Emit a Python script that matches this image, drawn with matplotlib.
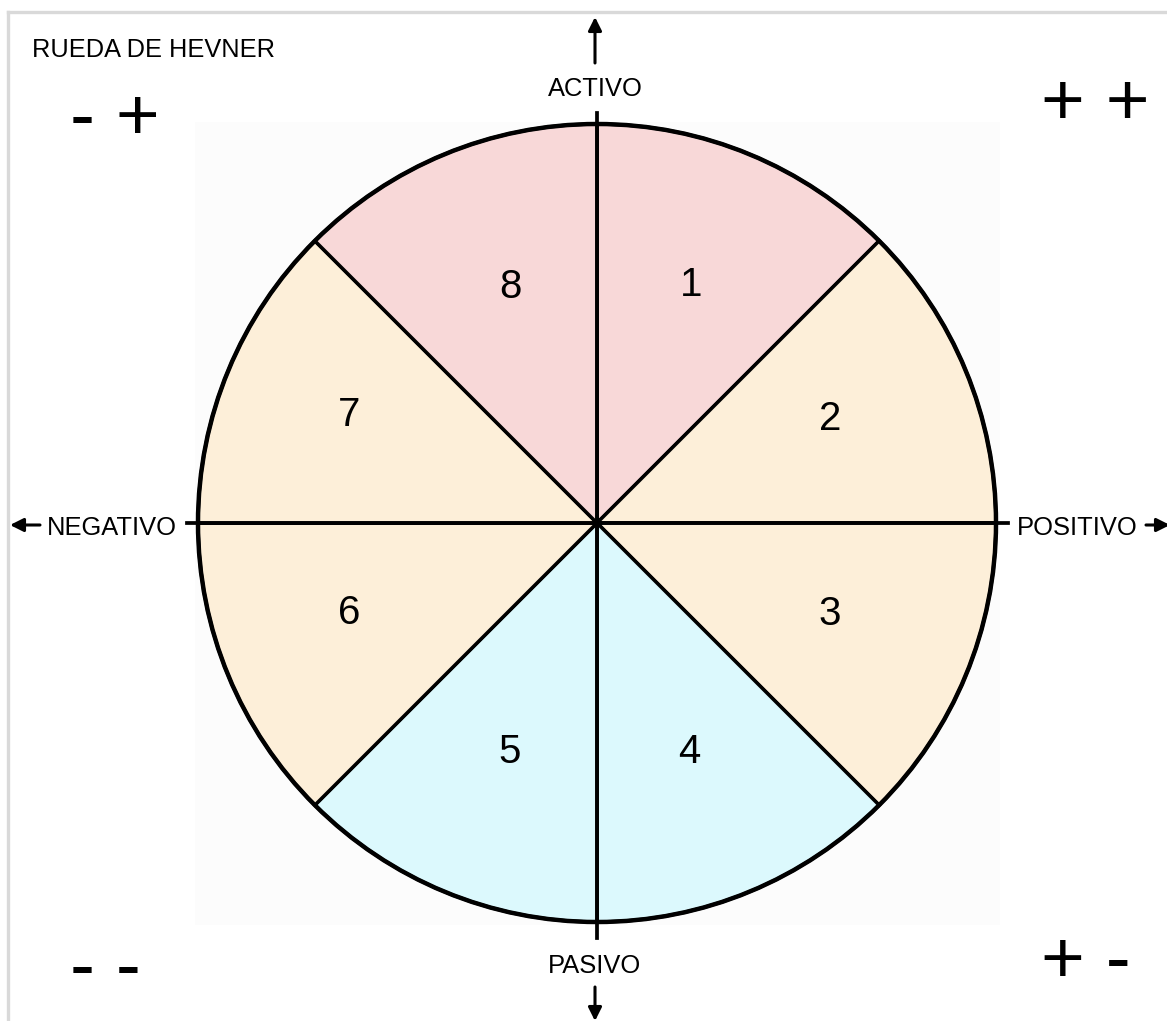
import matplotlib

matplotlib.use("Agg")

import matplotlib.pyplot as plt
from matplotlib.patches import Circle, Rectangle


W, H = 1167, 1021
FONT = ["Liberation Sans", "DejaVu Sans"]

TITLE = "RUEDA DE HEVNER"

# eight equal sectors, clockwise from 12 o'clock
SECTOR_LABELS = ["1", "2", "3", "4", "5", "6", "7", "8"]
SECTOR_SHARES = [1, 1, 1, 1, 1, 1, 1, 1]
SECTOR_COLORS = [
    "#f8d8d8", "#fdefd9", "#fdefd9", "#dcf9fd",
    "#dcf9fd", "#fdefd9", "#fdefd9", "#f8d8d8",
]

AXIS_NAMES = ["ACTIVO", "POSITIVO", "PASIVO", "NEGATIVO"]
CORNER_SIGNS = ["- +", "+ +", "+ -", "- -"]

# layout in pixels (y measured from the top)
CENTER_X, CENTER_Y = 597, 523
RADIUS = 399
# where the sector numbers sit in the original drawing
NUMBER_SPOTS = [
    (691, 285), (830, 419), (830, 614), (689, 752),
    (510, 752), (349, 613), (349, 415), (510, 287),
]


def py(y):
    return H - y


def main() -> None:
    fig = plt.figure(figsize=(W / 100, H / 100), dpi=100)
    ax = fig.add_axes([0, 0, 1, 1])

    cy = py(CENTER_Y)

    ax.add_patch(Rectangle((195, py(925)), 805, 803, color="#fcfcfc", lw=0, zorder=0))

    wedges, texts = ax.pie(
        SECTOR_SHARES,
        labels=SECTOR_LABELS,
        colors=SECTOR_COLORS,
        startangle=90,
        counterclock=False,
        radius=RADIUS,
        center=(CENTER_X, cy),
        labeldistance=0.63,
        wedgeprops=dict(edgecolor="black", linewidth=2.5),
        textprops=dict(fontsize=29, family=FONT, color="black"),
    )
    for t, (sx, sy) in zip(texts, NUMBER_SPOTS):
        t.set_position((sx, py(sy)))
        t.set_ha("center")
        t.set_va("center")

    ax.add_patch(Circle((CENTER_X, cy), RADIUS, fill=False, ec="black", lw=3.2, zorder=5))

    # cross axes
    ax.plot([CENTER_X, CENTER_X], [py(113), py(938)], color="black", lw=2.7, zorder=6)
    ax.plot([187, 1008], [cy, cy], color="black", lw=2.7, zorder=6)

    arrow = dict(arrowstyle="-|>", color="black", lw=2.2, mutation_scale=20,
                 shrinkA=0, shrinkB=0)
    ax.annotate("", xy=(595, py(17)), xytext=(595, py(63)), arrowprops=arrow,
                annotation_clip=False)
    ax.annotate("", xy=(595, py(1021)), xytext=(595, py(987)), arrowprops=arrow,
                annotation_clip=False)
    ax.annotate("", xy=(10, py(525)), xytext=(40, py(525)), arrowprops=arrow,
                annotation_clip=False)
    ax.annotate("", xy=(1170, py(525)), xytext=(1146, py(525)), arrowprops=arrow,
                annotation_clip=False)

    label_kw = dict(fontsize=18.4, family=FONT, ha="center", va="center")
    ax.text(595, py(89), AXIS_NAMES[0], **label_kw)
    ax.text(1077, py(528), AXIS_NAMES[1], **label_kw)
    ax.text(595, py(966), AXIS_NAMES[2], **label_kw)
    ax.text(112, py(528), AXIS_NAMES[3], **label_kw)

    ax.text(32, py(50), TITLE, fontsize=18.3, family=FONT, ha="left", va="center")

    sign_kw = dict(fontsize=54, family=FONT, ha="left", va="baseline")
    ax.text(70, py(140), CORNER_SIGNS[0], **sign_kw)
    ax.text(1041, py(125), CORNER_SIGNS[1], **sign_kw)
    ax.text(1041, py(983), CORNER_SIGNS[2], **sign_kw)
    ax.text(70, py(990), CORNER_SIGNS[3], **sign_kw)

    # light grey frame on top and left
    ax.plot([8, W], [py(12), py(12)], color="#d9d9d9", lw=2.4, zorder=1)
    ax.plot([8, 8], [py(12), 0], color="#d9d9d9", lw=2.4, zorder=1)

    ax.set_xlim(0, W)
    ax.set_ylim(0, H)
    ax.set_aspect("equal")
    ax.axis("off")

    fig.savefig("out.png", dpi=100)


if __name__ == "__main__":
    main()
